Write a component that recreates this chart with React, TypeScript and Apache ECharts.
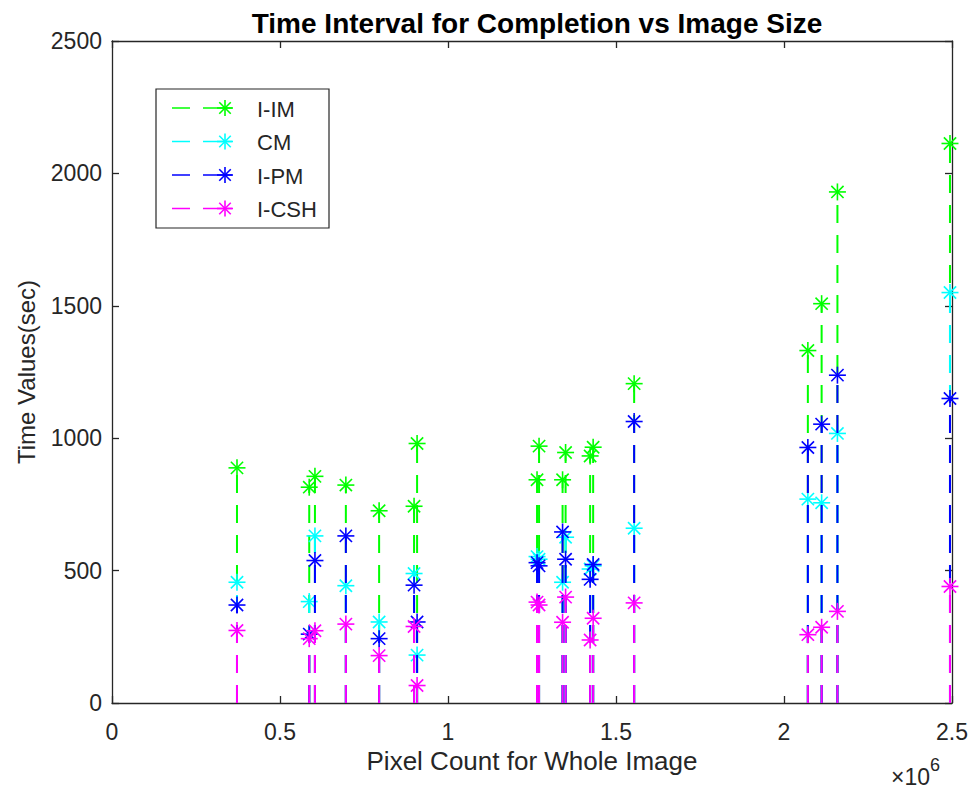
import React, { useEffect, useRef } from 'react';
import * as echarts from 'echarts';

// Pixel count of each test image
const pixelCounts = [
  372000, 587000, 604000, 696000, 795000, 899000, 908000, 1265000, 1271000,
  1341000, 1350000, 1423000, 1432000, 1554000, 2071000, 2112000, 2159000, 2494000,
];

// Completion time (sec) per method
const iIM = [888, 815, 856, 823, 726, 743, 980, 843, 970, 843, 946, 933, 966, 1206, 1331, 1508, 1930, 2113];
const cm = [456, 383, 631, 443, 306, 489, 181, 553, 543, 456, 626, 506, 518, 660, 770, 756, 1018, 1550];
const iPM = [370, 260, 538, 631, 243, 445, 306, 530, 518, 646, 543, 467, 523, 1063, 965, 1053, 1238, 1150];
const iCSH = [274, 243, 273, 298, 179, 289, 66, 381, 370, 305, 400, 238, 320, 378, 258, 286, 346, 440];

const xTickValues = [0, 500000, 1000000, 1500000, 2000000, 2500000];
const yTickValues = [0, 500, 1000, 1500, 2000, 2500];

const seriesNames = ['I-IM', 'CM', 'I-PM', 'I-CSH'];
const seriesValues = [iIM, cm, iPM, iCSH];
const seriesColors = ['#00ff00', '#00ffff', '#0000ff', '#ff00ff'];

const FONT = '"Liberation Sans", Arial, Helvetica, sans-serif';
const TEXT_COLOR = '#262626';
const AXIS_COLOR = '#262626';
const STEM_DASH = [18, 12];

function asterisk(cx: number, cy: number, r: number, color: string) {
  const d = r * 0.72;
  const segs = [
    [cx - r, cy, cx + r, cy],
    [cx, cy - r, cx, cy + r],
    [cx - d, cy - d, cx + d, cy + d],
    [cx - d, cy + d, cx + d, cy - d],
  ];
  return segs.map(([x1, y1, x2, y2]) => ({
    type: 'line',
    shape: { x1, y1, x2, y2 },
    style: { stroke: color, lineWidth: 1.6 },
    silent: true,
  }));
}

function stemSeries(name: string, values: number[], color: string) {
  return {
    type: 'custom',
    name,
    clip: false,
    data: pixelCounts.map((x, i) => [x, values[i]]),
    renderItem: (params: any, api: any) => {
      const top = api.coord([api.value(0), api.value(1)]);
      const base = api.coord([api.value(0), 0]);
      return {
        type: 'group',
        children: [
          {
            type: 'line',
            shape: { x1: top[0], y1: base[1], x2: top[0], y2: top[1] },
            style: { stroke: color, lineWidth: 2, lineDash: STEM_DASH },
          },
          ...asterisk(top[0], top[1], 8.5, color),
        ],
      };
    },
  };
}

function legendGraphic() {
  const left = 156;
  const top = 89;
  const rowH = 33.5;
  const children: any[] = [
    {
      type: 'rect',
      shape: { x: left, y: top, width: 173, height: 139 },
      style: { fill: '#ffffff', stroke: AXIS_COLOR, lineWidth: 1.2 },
    },
  ];
  seriesNames.forEach((name, i) => {
    const y = top + 19 + i * rowH;
    const color = seriesColors[i];
    children.push(
      { type: 'line', shape: { x1: left + 16, y1: y, x2: left + 34, y2: y }, style: { stroke: color, lineWidth: 1.5 } },
      { type: 'line', shape: { x1: left + 47, y1: y, x2: left + 76, y2: y }, style: { stroke: color, lineWidth: 1.5 } },
      ...asterisk(left + 69, y, 8, color),
      {
        type: 'text',
        x: left + 101,
        y: y + 1,
        style: { text: name, fill: TEXT_COLOR, font: `22px ${FONT}`, textAlign: 'left', textVerticalAlign: 'middle' },
      }
    );
  });
  return { type: 'group', children };
}

export default function App() {
  const ref = useRef<HTMLDivElement>(null);

  useEffect(() => {
    if (!ref.current) return;
    const chart = echarts.init(ref.current, undefined, { renderer: 'svg' });

    const tickLabel = { color: TEXT_COLOR, fontSize: 23, fontFamily: FONT };
    const axisLine = { show: true, onZero: false, lineStyle: { color: AXIS_COLOR, width: 1.3 } };
    const axisTick = { show: true, inside: true, length: 7, lineStyle: { color: AXIS_COLOR, width: 1.3 } };
    const xRange = { type: 'value', min: xTickValues[0], max: xTickValues[xTickValues.length - 1], interval: xTickValues[1] - xTickValues[0] };
    const yRange = { type: 'value', min: yTickValues[0], max: yTickValues[yTickValues.length - 1], interval: yTickValues[1] - yTickValues[0] };

    chart.setOption({
      animation: false,
      backgroundColor: '#ffffff',
      title: {
        text: 'Time Interval for Completion vs Image Size',
        left: 532,
        top: 4,
        textAlign: 'center',
        textStyle: { color: '#000000', fontSize: 28, fontWeight: 'bold', fontFamily: FONT },
      },
      grid: { left: 112, right: 19, top: 41, bottom: 87, containLabel: false },
      xAxis: [
        {
          ...xRange,
          position: 'bottom',
          name: 'Pixel Count for Whole Image',
          nameLocation: 'middle',
          nameGap: 42,
          nameTextStyle: { color: TEXT_COLOR, fontSize: 26, fontFamily: FONT },
          axisLine,
          axisTick,
          splitLine: { show: false },
          axisLabel: { ...tickLabel, margin: 17, formatter: (v: number) => String(v / 1000000) },
        },
        {
          ...xRange,
          position: 'top',
          axisLine,
          axisTick,
          splitLine: { show: false },
          axisLabel: { show: false },
        },
      ],
      yAxis: [
        {
          ...yRange,
          position: 'left',
          name: 'Time Values(sec)',
          nameLocation: 'middle',
          nameGap: 74,
          nameTextStyle: { color: TEXT_COLOR, fontSize: 24, fontFamily: FONT },
          axisLine,
          axisTick,
          splitLine: { show: false },
          axisLabel: { ...tickLabel, margin: 10, formatter: (v: number) => String(v) },
        },
        {
          ...yRange,
          position: 'right',
          axisLine,
          axisTick,
          splitLine: { show: false },
          axisLabel: { show: false },
        },
      ],
      series: seriesNames.map((n, i) => stemSeries(n, seriesValues[i], seriesColors[i])),
      graphic: [
        legendGraphic(),
        {
          type: 'text',
          x: 891,
          y: 777,
          style: { text: '×10', fill: TEXT_COLOR, font: `23px ${FONT}`, textAlign: 'left', textVerticalAlign: 'middle' },
        },
        {
          type: 'text',
          x: 930,
          y: 765,
          style: { text: '6', fill: TEXT_COLOR, font: `18px ${FONT}`, textAlign: 'left', textVerticalAlign: 'middle' },
        },
      ],
    });

    return () => chart.dispose();
  }, []);

  return (
    <div
      ref={ref}
      style={{ position: 'fixed', left: 0, top: 0, width: 971, height: 790, background: '#fff' }}
    />
  );
}
